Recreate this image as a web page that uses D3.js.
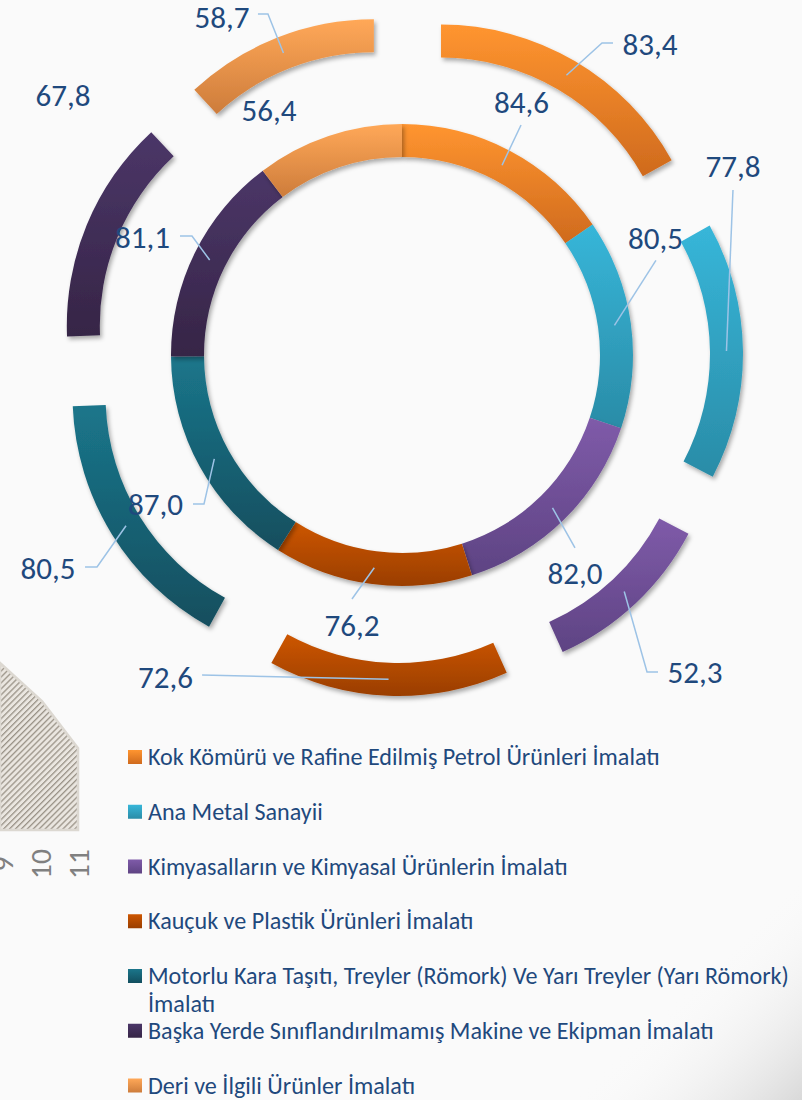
<!DOCTYPE html>
<html><head><meta charset="utf-8">
<script src="https://cdn.jsdelivr.net/npm/d3@7"></script>
<style>html,body{margin:0;padding:0;background:#fafafa;} svg{display:block}</style>
</head><body><svg id="c" width="802" height="1100"></svg>
<script>
const categories = [
  "Kok Kömürü ve Rafine Edilmiş Petrol Ürünleri İmalatı",
  "Ana Metal Sanayii",
  "Kimyasalların ve Kimyasal Ürünlerin İmalatı",
  "Kauçuk ve Plastik Ürünleri İmalatı",
  "Motorlu Kara Taşıtı, Treyler (Römork) Ve Yarı Treyler (Yarı Römork) İmalatı",
  "Başka Yerde Sınıflandırılmamış Makine ve Ekipman İmalatı",
  "Deri ve İlgili Ürünler İmalatı"
];
const innerValues = [84.6, 80.5, 82.0, 76.2, 87.0, 81.1, 56.4];
const outerValues = [83.4, 77.8, 52.3, 72.6, 80.5, 67.8, 58.7];
const colorTop    = ["#FF9530", "#37B6D9", "#7F5BA9", "#CD5600", "#1B768B", "#4B3668", "#FFA858"];
const colorBottom = ["#CF6A1D", "#2A8CA7", "#5E4383", "#9A3E00", "#124E5E", "#362546", "#CD7C3B"];
const axisTicks = ["9", "10", "11"];

// label placement (offset of label centre from its arc anchor) and leader bends (relative to label centre)
const innerLabelOffsets = [[19.5,-62.3],[41,-87],[22.5,65.6],[-22.3,57.3],[-58.8,45.2],[-67.2,-23],[-64.8,-41.1]];
const innerLeaders = [[[-0.5,22]],[[0.5,22]],[[0,-25.5]],[[0,-26]],[[48.5,0],[37.5,0]],[[49.5,-1],[37.5,-1]],[]];
const outerLabelOffsets = [[83.6,-31.2],[6.5,-184],[70.8,81.5],[-223,-2.2],[-78,42.3],[-39,-136],[-61.5,-35.9]];
const outerLeaders = [[[-48,-1],[-37,-1]],[[0,23]],[[-48,-1],[-37,-1]],[[36.5,-2]],[[49,-1],[37,-1]],[],[[46,-3],[36,-3]]];

const W = 802, H = 1100;
const cx = 402, cy = 355;
const r0 = 198, r1 = 231, r2 = 264, explode = 77;
const FONT = "Carlito, Lato, 'Open Sans', sans-serif";
const textColor = "#1F497D";

const ctx = document.createElement("canvas").getContext("2d");
function measure(str, size){ ctx.font = size + "px " + FONT; return ctx.measureText(str); }
const lblSize = 100 * 55 / measure("83,4", 100).width;
const lblAsc = measure("83,4", lblSize).actualBoundingBoxAscent;
const legSize = 100 * 512 / measure(categories[0], 100).width;
const legAsc = measure("K", legSize).actualBoundingBoxAscent;
const tickSize = lblSize * 0.95;

const svg = d3.select("#c");
const defs = svg.append("defs");

// gradients
categories.forEach((c, i) => {
  const g = defs.append("linearGradient").attr("id", "g" + i)
    .attr("x1", 0).attr("y1", 0).attr("x2", 0).attr("y2", 1);
  g.append("stop").attr("offset", "0%").attr("stop-color", colorTop[i]);
  g.append("stop").attr("offset", "100%").attr("stop-color", colorBottom[i]);
});
const f = defs.append("filter").attr("id", "sh").attr("x", "-20%").attr("y", "-20%").attr("width", "140%").attr("height", "140%");
f.append("feDropShadow").attr("dx", 2).attr("dy", 3).attr("stdDeviation", 2.2)
  .attr("flood-color", "#000").attr("flood-opacity", 0.32);

const hatch = defs.append("pattern").attr("id", "hatch").attr("patternUnits", "userSpaceOnUse")
  .attr("width", 4.2).attr("height", 4.2).attr("patternTransform", "rotate(45)");
hatch.append("rect").attr("width", 4.2).attr("height", 4.2).attr("fill", "#EAE6E0");
hatch.append("rect").attr("width", 1.3).attr("height", 4.2).attr("fill", "#9A9388");

const cg = defs.append("linearGradient").attr("id", "corner")
  .attr("gradientUnits", "userSpaceOnUse").attr("x1", 690).attr("y1", 985).attr("x2", 802).attr("y2", 1100);
cg.append("stop").attr("offset", "0%").attr("stop-color", "#fafafa").attr("stop-opacity", 0);
cg.append("stop").attr("offset", "100%").attr("stop-color", "#d9d9d9").attr("stop-opacity", 1);

// background
svg.append("rect").attr("width", W).attr("height", H).attr("fill", "#fafafa");
svg.append("path").attr("d", "M560,1100 L802,860 L802,1100 Z").attr("fill", "url(#corner)");

// decorative hatched shape + rotated tick labels (neighbouring chart fragment)
const hx = d3.scaleLinear().domain([0, 1]).range([0, 78]);
const hy = d3.scaleLinear().domain([0, 1]).range([663, 830]);
const hatchPts = [[0,0],[0.54,0.23],[1,0.51],[1,1],[0,1]];
svg.append("path")
  .attr("d", d3.line().x(d => hx(d[0])).y(d => hy(d[1]))(hatchPts) + "Z")
  .attr("fill", "url(#hatch)").attr("stroke", "#dcd8d1").attr("stroke-width", 2.5);
const tx = d3.scalePoint().domain(axisTicks).range([3, 79]);
svg.append("g").selectAll("text").data(axisTicks).join("text")
  .attr("transform", d => `translate(${tx(d)},864) rotate(-90)`)
  .attr("text-anchor", "middle").attr("dominant-baseline", "central")
  .attr("font-family", FONT).attr("font-size", tickSize).attr("fill", "#808080")
  .text(d => d);

// rings
const pie = d3.pie().sort(null).value(d => d);
const innerArcs = pie(innerValues);
const outerArcs = pie(outerValues);
const arcIn = d3.arc().innerRadius(r0).outerRadius(r1);
const arcOut = d3.arc().innerRadius(r1).outerRadius(r2);
const mid = a => (a.startAngle + a.endAngle) / 2;

const chart = svg.append("g").attr("transform", `translate(${cx},${cy})`);
chart.append("g").selectAll("path").data(outerArcs).join("path")
  .attr("transform", d => `translate(${explode * Math.sin(mid(d))},${-explode * Math.cos(mid(d))})`)
  .attr("d", arcOut).attr("fill", (d, i) => `url(#g${i})`).attr("filter", "url(#sh)");
chart.append("g").selectAll("path").data(innerArcs).join("path")
  .attr("d", arcIn).attr("fill", (d, i) => `url(#g${i})`).attr("filter", "url(#sh)");

// labels
const fmt = v => d3.format(".1f")(v).replace(".", ",");
function labelData(arcs, arcGen, shift, offsets, leaders) {
  return arcs.map((a, i) => {
    let [ax, ay] = arcGen.centroid(a);
    if (shift) { ax += shift * Math.sin(mid(a)); ay -= shift * Math.cos(mid(a)); }
    const lx = ax + offsets[i][0], ly = ay + offsets[i][1];
    const pts = [[ax, ay]].concat(leaders[i].map(p => [lx + p[0], ly + p[1]]));
    return { v: a.data, lx, ly, pts, hasLeader: leaders[i].length > 0 };
  });
}
const labels = labelData(innerArcs, arcIn, 0, innerLabelOffsets, innerLeaders)
  .concat(labelData(outerArcs, arcOut, explode, outerLabelOffsets, outerLeaders));

const lg = chart.append("g");
lg.selectAll("path").data(labels.filter(d => d.hasLeader)).join("path")
  .attr("d", d => d3.line()(d.pts)).attr("fill", "none")
  .attr("stroke", "#9DC3E6").attr("stroke-width", 1.5);
lg.selectAll("text").data(labels).join("text")
  .attr("x", d => d.lx).attr("y", d => d.ly + lblAsc / 2)
  .attr("text-anchor", "middle").attr("font-family", FONT).attr("font-size", lblSize)
  .attr("fill", textColor).text(d => fmt(d.v));

// legend
const ly = d3.scalePoint().domain(categories).range([757, 1085.5]);
const legX = 148, maxW = 656, lineH = 27.5;
const leg = svg.append("g");
categories.forEach((c, i) => {
  const y = ly(c);
  leg.append("rect").attr("x", 128).attr("y", y - 7).attr("width", 14).attr("height", 14)
    .attr("fill", `url(#g${i})`);
  const words = c.split(" "); const lines = []; let cur = "";
  words.forEach(w => {
    const t = cur ? cur + " " + w : w;
    if (measure(t, legSize).width > maxW && cur) { lines.push(cur); cur = w; } else cur = t;
  });
  lines.push(cur);
  lines.forEach((l, j) => {
    leg.append("text").attr("x", legX).attr("y", y + legAsc / 2 + j * lineH)
      .attr("font-family", FONT).attr("font-size", legSize).attr("fill", textColor).text(l);
  });
});
</script></body></html>
